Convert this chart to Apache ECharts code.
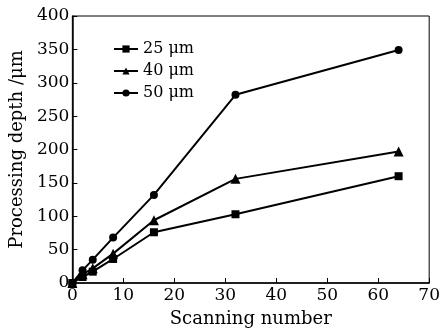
<!DOCTYPE html>
<html>
<head>
<meta charset="utf-8">
<script src="https://cdn.jsdelivr.net/npm/echarts@6/dist/echarts.min.js"></script>
<style>html,body{margin:0;padding:0;background:#fff}#c{width:443px;height:336px}</style>
</head>
<body>
<div id="c"></div>
<script>
const scans = [0, 2, 4, 8, 16, 32, 64];
const depth25 = [0, 9, 17, 36, 76, 103, 160];
const depth40 = [0, 13, 22, 44, 94, 156, 197];
const depth50 = [0, 19, 35, 68, 132, 282, 349];
const seriesNames = ['25 μm', '40 μm', '50 μm'];
const symbols = ['rect', 'triangle', 'circle'];

const font = 'DejaVu Serif';
const chart = echarts.init(document.getElementById('c'), null, {renderer: 'canvas'});
const allData = [depth25, depth40, depth50];
chart.setOption({
  animation: false,
  backgroundColor: '#fff',
  grid: {left: 71, top: 16, right: 12, bottom: 53, show: true, borderColor: '#000', borderWidth: 1},
  legend: {
    left: 108, top: 36, orient: 'vertical', itemGap: 6, itemWidth: 24, itemHeight: 9,
    textStyle: {fontFamily: font, fontSize: 16, color: '#000'},
    data: seriesNames
  },
  xAxis: {
    type: 'value', min: 0, max: 70, interval: 10,
    name: 'Scanning number', nameLocation: 'middle', nameGap: 27,
    nameTextStyle: {fontFamily: font, fontSize: 18, color: '#000'},
    axisLine: {lineStyle: {color: '#000', width: 1.5}},
    axisTick: {inside: true, length: 5, lineStyle: {color: '#000'}},
    axisLabel: {fontFamily: font, fontSize: 17, color: '#000', margin: 4},
    splitLine: {show: false}
  },
  yAxis: {
    type: 'value', min: 0, max: 400, interval: 50,
    name: 'Processing depth /μm', nameLocation: 'middle', nameGap: 44,
    nameTextStyle: {fontFamily: font, fontSize: 18, color: '#000'},
    axisLine: {lineStyle: {color: '#000', width: 1.5}},
    axisTick: {inside: true, length: 5, lineStyle: {color: '#000'}},
    axisLabel: {fontFamily: font, fontSize: 17, color: '#000', margin: 3},
    splitLine: {show: false}
  },
  series: seriesNames.map((n, i) => ({
    name: n, type: 'line',
    data: scans.map((x, j) => [x, allData[i][j]]),
    symbol: symbols[i], symbolSize: i === 1 ? 10 : 8,
    lineStyle: {color: '#000', width: 2},
    itemStyle: {color: '#000'},
    color: '#000'
  }))
});
</script>
</body>
</html>
